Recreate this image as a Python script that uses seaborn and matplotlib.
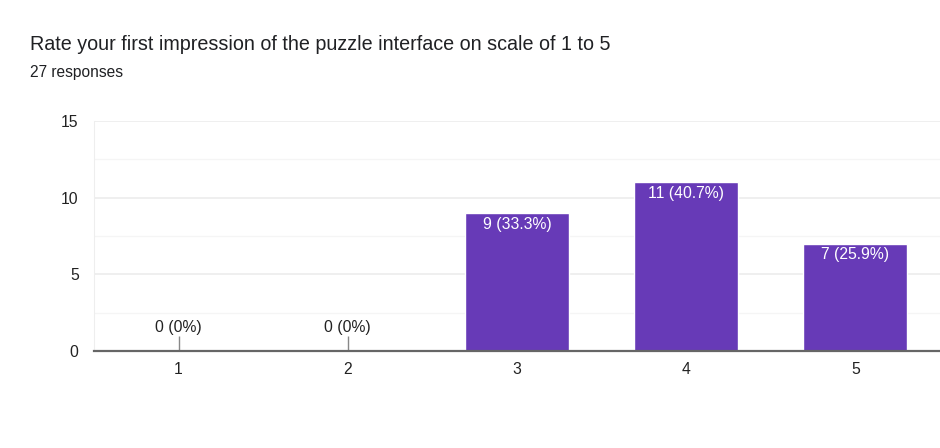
import pandas as pd
import matplotlib.pyplot as plt
import seaborn as sns

# data
ratings = ["1", "2", "3", "4", "5"]
counts = [0, 0, 9, 11, 7]
total = 27
title = "Rate your first impression of the puzzle interface on scale of 1 to 5"
subtitle = "27 responses"

df = pd.DataFrame({"rating": ratings, "count": counts})

sns.set_style("white")
plt.rcParams["font.family"] = ["Liberation Sans", "DejaVu Sans"]

purple = "#673ab7"

fig = plt.figure(figsize=(9.4, 4.48), dpi=100)
ax = fig.add_axes([0.1, 0.2165, 0.9, 0.5135])

sns.barplot(data=df, x="rating", y="count", color=purple, saturation=1,
            width=0.615, ax=ax, zorder=3)

ax.set_xlim(-0.5, 4.5)
ax.set_ylim(0, 15)
ax.set_yticks([0, 5, 10, 15])
ax.set_yticks([2.5, 7.5, 12.5], minor=True)
ax.grid(axis="y", which="major", color="#ececec", linewidth=1.2, zorder=0)
ax.grid(axis="y", which="minor", color="#f5f5f5", linewidth=1.0, zorder=0)
ax.set_xlabel("")
ax.set_ylabel("")

for side in ["top", "right"]:
    ax.spines[side].set_visible(False)
ax.spines["left"].set_color("#eeeeee")
ax.spines["bottom"].set_color("#666666")
ax.spines["bottom"].set_linewidth(1.6)
ax.spines["bottom"].set_zorder(4)

ax.tick_params(axis="both", which="both", length=0, labelsize=11.3,
               colors="#222222")
ax.tick_params(axis="x", pad=8)
ax.tick_params(axis="y", pad=11)

# value labels
for i, c in enumerate(counts):
    pct = c / total * 100
    if c == 0:
        lab = "0 (0%)"
        ax.vlines(i, 0, 1.0, color="#888888", linewidth=1, zorder=3)
        ax.text(i, 1.55, lab, ha="center", va="center", fontsize=11.3,
                color="#222222")
    else:
        lab = f"{c} ({pct:.1f}%)"
        ax.text(i, c - 0.72, lab, ha="center", va="center", fontsize=11.3,
                color="white", zorder=5)

fig.text(30 / 940, 1 - 45 / 448, title, ha="left", va="center",
         fontsize=14.2, color="#202124")
fig.text(30 / 940, 1 - 72 / 448, subtitle, ha="left", va="center",
         fontsize=11.2, color="#202124")

fig.savefig("out.png", dpi=100)
